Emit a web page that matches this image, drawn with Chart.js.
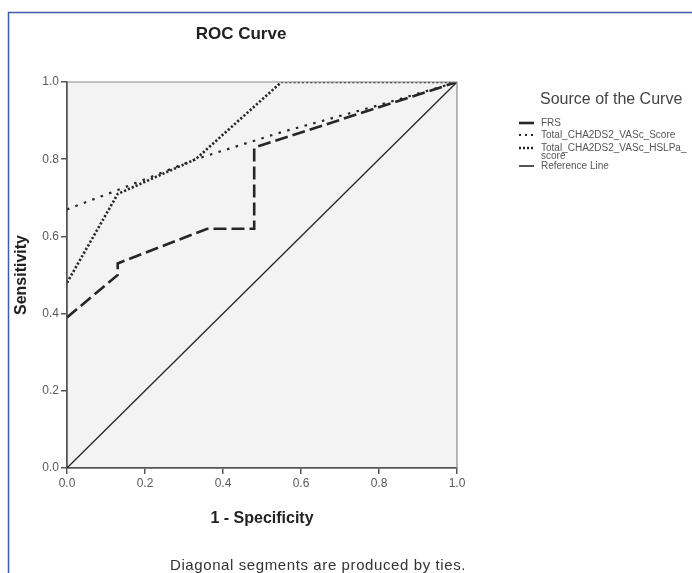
<!DOCTYPE html>
<html>
<head>
<meta charset="utf-8">
<script src="https://cdn.jsdelivr.net/npm/chart.js@4"></script>
<style>
  body { margin: 0; background: #fff; }
  #wrap { width: 692px; height: 573px; }
</style>
</head>
<body>
<div id="wrap"><canvas id="roc" width="692" height="573"></canvas></div>
<script>
// series names
const seriesNames = ['FRS', 'Total_CHA2DS2_VASc_Score', 'Total_CHA2DS2_VASc_HSLPa_score', 'Reference Line'];

// 1 - specificity / sensitivity
const frsX = [0, 0.13, 0.13, 0.36, 0.48, 0.48, 1];
const frsY = [0.39, 0.50, 0.53, 0.62, 0.62, 0.83, 1];

const scoreX = [0, 0.13, 0.33, 0.55, 0.8, 1];
const scoreY = [0.67, 0.72, 0.80, 0.87, 0.94, 1];

const hslpaX = [0, 0.13, 0.33, 0.55, 1];
const hslpaY = [0.48, 0.71, 0.80, 1, 1];

const refX = [0, 1];
const refY = [0, 1];

const tickValues = [0, 0.2, 0.4, 0.6, 0.8, 1.0];

function toPoints(xs, ys) {
    return xs.map((x, i) => ({ x: x, y: ys[i] }));
}

// styles of the lines (also used by the legend)
const lineStyles = [
    { dash: [13, 5], width: 2.6, legendDash: [] },
    { dash: [2.5, 6.5], width: 2.2, legendDash: [2, 4] },
    { dash: [2.2, 2], width: 2.6, legendDash: [2, 2] },
    { dash: [], width: 1.3, legendDash: [] }
];

const datasets = [
    toPoints(frsX, frsY),
    toPoints(scoreX, scoreY),
    toPoints(hslpaX, hslpaY),
    toPoints(refX, refY)
].map((pts, i) => ({
    label: seriesNames[i],
    data: pts,
    showLine: true,
    borderColor: '#262626',
    borderWidth: lineStyles[i].width,
    borderDash: lineStyles[i].dash,
    pointRadius: 0,
    tension: 0
}));

// extra drawing: plot background, frame, titles, legend
const decor = {
    id: 'decor',
    beforeDraw(chart) {
        const ctx = chart.ctx;
        const a = chart.chartArea;
        ctx.save();
        ctx.fillStyle = '#fff';
        ctx.fillRect(0, 0, chart.width, chart.height);
        ctx.fillStyle = '#f3f3f3';
        ctx.fillRect(a.left, a.top, a.right - a.left, a.bottom - a.top);
        ctx.restore();
    },
    afterDraw(chart) {
        const ctx = chart.ctx;
        const a = chart.chartArea;
        ctx.save();

        // top / right plot border
        ctx.strokeStyle = '#8a8a8a';
        ctx.lineWidth = 1.2;
        ctx.beginPath();
        ctx.moveTo(a.left, a.top);
        ctx.lineTo(a.right, a.top);
        ctx.lineTo(a.right, a.bottom);
        ctx.stroke();

        // outer blue frame
        ctx.strokeStyle = '#3b5bab';
        ctx.lineWidth = 1.5;
        ctx.beginPath();
        ctx.moveTo(8.5, 600);
        ctx.lineTo(8.5, 12.5);
        ctx.lineTo(700, 12.5);
        ctx.stroke();

        // titles
        ctx.fillStyle = '#222';
        ctx.textAlign = 'center';
        ctx.textBaseline = 'middle';
        ctx.font = 'bold 17px "Liberation Sans", Arial, sans-serif';
        ctx.fillText('ROC Curve', 241, 34);
        ctx.font = 'bold 16px "Liberation Sans", Arial, sans-serif';
        ctx.fillText('1 - Specificity', 262, 519);
        ctx.save();
        ctx.translate(22, 275);
        ctx.rotate(-Math.PI / 2);
        ctx.fillText('Sensitivity', 0, 0);
        ctx.restore();

        ctx.fillStyle = '#333';
        ctx.font = '15px "Liberation Sans", Arial, sans-serif';
        ctx.letterSpacing = '0.6px';
        ctx.fillText('Diagonal segments are produced by ties.', 318, 566);
        ctx.letterSpacing = '0px';

        // legend
        ctx.fillStyle = '#444';
        ctx.textAlign = 'left';
        ctx.font = '16px "Liberation Sans", Arial, sans-serif';
        ctx.fillText('Source of the Curve', 540, 100);

        const rows = [
            { y: 123, text: ['FRS'] },
            { y: 135, text: ['Total_CHA2DS2_VASc_Score'] },
            { y: 148, text: ['Total_CHA2DS2_VASc_HSLPa_', 'score'] },
            { y: 166, text: ['Reference Line'] }
        ];
        ctx.font = '10px "Liberation Sans", Arial, sans-serif';
        rows.forEach((r, i) => {
            ctx.strokeStyle = i === 3 ? '#555' : '#262626';
            ctx.lineWidth = i === 3 ? 2 : lineStyles[i].width;
            ctx.setLineDash(lineStyles[i].legendDash);
            ctx.beginPath();
            ctx.moveTo(519, r.y);
            ctx.lineTo(534, r.y);
            ctx.stroke();
            ctx.setLineDash([]);
            ctx.fillStyle = '#555';
            r.text.forEach((t, k) => ctx.fillText(t, 541, r.y + k * 8));
        });

        ctx.restore();
    }
};

const axisCommon = {
    type: 'linear',
    min: 0,
    max: 1,
    grid: {
        display: true,
        drawOnChartArea: false,
        drawTicks: true,
        tickLength: 6,
        color: '#555',
        lineWidth: 1.5
    },
    border: { display: true, color: '#555', width: 1.8 },
    afterBuildTicks(scale) {
        scale.ticks = tickValues.map(v => ({ value: v }));
    },
    ticks: {
        color: '#5a5a5a',
        padding: 2,
        font: { family: '"Liberation Sans", Arial, sans-serif', size: 12 },
        callback: v => v.toFixed(1)
    }
};

const ctx = document.getElementById('roc').getContext('2d');
const chart = new Chart(ctx, {
    type: 'scatter',
    data: { datasets: datasets },
    options: {
        responsive: false,
        animation: false,
        layout: { padding: { left: 0, top: 82, right: 235, bottom: 0 } },
        plugins: {
            legend: { display: false },
            tooltip: { enabled: false }
        },
        scales: {
            x: Object.assign({}, axisCommon, {
                position: 'bottom',
                afterFit(scale) { scale.height = 105; }
            }),
            y: Object.assign({}, axisCommon, {
                position: 'left',
                afterFit(scale) { scale.width = 67; }
            })
        }
    },
    plugins: [decor]
});
</script>
</body>
</html>
